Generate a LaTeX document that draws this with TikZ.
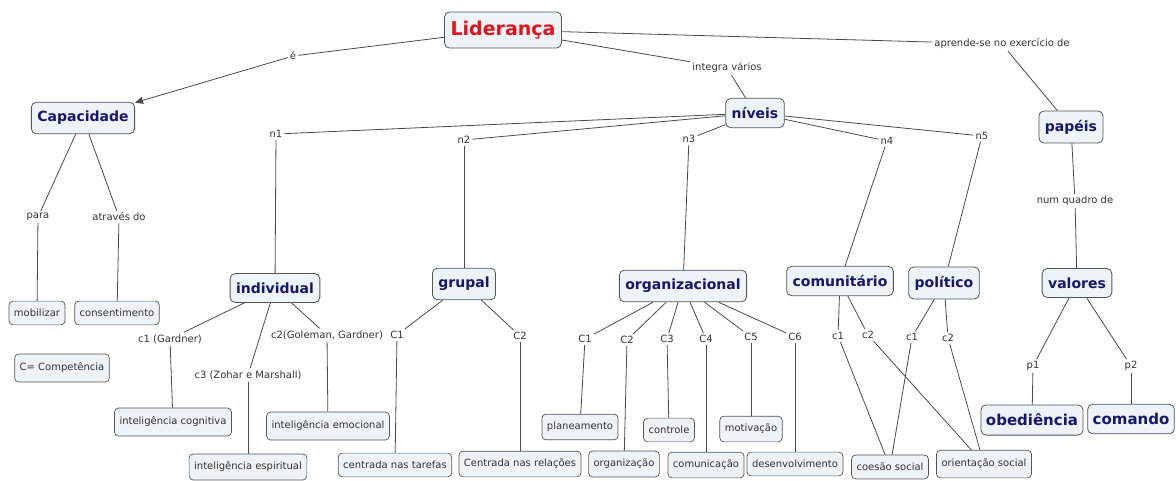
\documentclass[tikz,border=0pt]{standalone}
\usepackage{fontspec}
\setmainfont{DejaVu Sans}
\usetikzlibrary{arrows.meta}
\definecolor{boxfill}{HTML}{EDF3F7}
\definecolor{boxline}{HTML}{555555}
\definecolor{navy}{HTML}{16166E}
\definecolor{lidred}{HTML}{E3121C}
\definecolor{linkc}{HTML}{4A4A4A}
\definecolor{txt}{HTML}{333333}
\tikzset{
  big/.style={draw=boxline, line width=0.8pt, fill=boxfill, rounded corners=5pt,
    font=\fontsize{14}{16}\selectfont\bfseries, text=navy, inner xsep=6pt, inner ysep=9pt},
  small/.style={draw=boxline, line width=0.7pt, fill=boxfill, rounded corners=4pt,
    font=\fontsize{10}{12}\selectfont, text=txt, inner xsep=5pt, inner ysep=8pt},
  lab/.style={font=\fontsize{10}{12}\selectfont, text=txt, inner sep=2pt},
  link/.style={draw=linkc, line width=0.8pt},
  tip/.style={-{Triangle[length=8pt,width=7pt]}}
}
\begin{document}
\begin{tikzpicture}[x=1pt,y=-1pt]
\useasboundingbox (0,0) rectangle (1176,480);
% main concepts
\node[big, font=\fontsize{19}{21}\selectfont\bfseries, text=lidred, inner ysep=9pt] (lid) at (503,30) {Liderança};
\node[big] (cap) at (83,118) {Capacidade};
\node[big] (niv) at (755,113) {níveis};
\node[big] (pap) at (1071,127) {papéis};
\node[big] (ind) at (275,288) {individual};
\node[big] (gru) at (464,284) {grupal};
\node[big] (org) at (683,286) {organizacional};
\node[big] (com) at (840,281) {comunitário};
\node[big] (pol) at (944,283) {político};
\node[big] (val) at (1077,283) {valores};
\node[big, font=\fontsize{15}{17}\selectfont\bfseries, inner xsep=5pt] (obe) at (1032,420) {obediência};
\node[big, font=\fontsize{15}{17}\selectfont\bfseries, inner xsep=5pt] (cmd) at (1131,419) {comando};
% small concepts
\node[small] (mob) at (37,313) {mobilizar};
\node[small] (con) at (117,313) {consentimento};
\node[small, inner ysep=9pt] (cpt) at (62,368) {C= Competência};
\node[small, inner ysep=9pt] (icog) at (173,422) {inteligência cognitiva};
\node[small] (iesp) at (248,467) {inteligência espiritual};
\node[small, inner ysep=9pt] (iemo) at (328,426) {inteligência emocional};
\node[small] (ctar) at (395,465) {centrada nas tarefas};
\node[small] (crel) at (520,464) {Centrada nas relações};
\node[small] (plan) at (580,427) {planeamento};
\node[small] (orgz) at (624,464) {organização};
\node[small] (ctrl) at (669,430) {controle};
\node[small] (comu) at (706,465) {comunicação};
\node[small] (motv) at (751,429) {motivação};
\node[small] (desv) at (795,464) {desenvolvimento};
\node[small] (coes) at (890,467) {coesão social};
\node[small, inner ysep=9pt] (orie) at (984,464) {orientação social};
% link labels
\node[lab] (le) at (293,56) {é};
\node[lab] (lint) at (727,68) {integra vários};
\node[lab] (lapr) at (1002,44) {aprende-se no exercício de};
\node[lab] (n1) at (276,134) {n1};
\node[lab] (n2) at (464,140) {n2};
\node[lab] (n3) at (689,139) {n3};
\node[lab] (n4) at (887,141) {n4};
\node[lab] (n5) at (982,136) {n5};
\node[lab] (lpara) at (38,217) {para};
\node[lab] (latr) at (119,217) {através do};
\node[lab] (lnum) at (1075,201) {num quadro de};
\node[lab] (lc1g) at (170,339) {c1 (Gardner)};
\node[lab] (lc3z) at (248,375) {c3 (Zohar e Marshall)};
\node[lab, inner xsep=1pt] (lc2g) at (327,335) {c2(Goleman, Gardner)};
\node[lab] (gC1) at (397,335) {C1};
\node[lab] (gC2) at (520,336) {C2};
\node[lab] (oC1) at (585,339) {C1};
\node[lab] (oC2) at (627,340) {C2};
\node[lab] (oC3) at (667,339) {C3};
\node[lab] (oC4) at (706,339) {C4};
\node[lab] (oC5) at (751,337) {C5};
\node[lab] (oC6) at (795,337) {C6};
\node[lab] (mc1) at (838,336) {c1};
\node[lab] (mc2) at (868,335) {c2};
\node[lab] (pc1) at (912,337) {c1};
\node[lab] (pc2) at (948,338) {c2};
\node[lab] (lp1) at (1033,366) {p1};
\node[lab] (lp2) at (1131,366) {p2};
% connectors
\draw[link] (lid) -- (le);
\draw[link, tip] (le) -- (cap);
\draw[link] (lid) -- (lint);
\draw[link] (lint) -- (niv);
\draw[link] (lid) -- (lapr);
\draw[link] (lapr) -- (pap);
\foreach \n/\t in {n1/ind, n2/gru, n3/org, n4/com, n5/pol}{
  \draw[link] (niv) -- (\n);
  \draw[link] (\n) -- (\t);
}
\draw[link] (cap) -- (lpara); \draw[link] (lpara) -- (mob);
\draw[link] (cap) -- (latr); \draw[link] (latr) -- (con);
\draw[link] (pap) -- (lnum); \draw[link] (lnum) -- (val);
\draw[link] (val) -- (lp1); \draw[link] (lp1) -- (obe);
\draw[link] (val) -- (lp2); \draw[link] (lp2) -- (cmd);
\draw[link] (ind) -- (lc1g); \draw[link] (lc1g) -- (icog);
\draw[link] (ind) -- (lc3z); \draw[link] (lc3z) -- (iesp);
\draw[link] (ind) -- (lc2g); \draw[link] (lc2g) -- (iemo);
\draw[link] (gru) -- (gC1); \draw[link] (gC1) -- (ctar);
\draw[link] (gru) -- (gC2); \draw[link] (gC2) -- (crel);
\foreach \c/\t in {oC1/plan, oC2/orgz, oC3/ctrl, oC4/comu, oC5/motv, oC6/desv}{
  \draw[link] (org) -- (\c);
  \draw[link] (\c) -- (\t);
}
\draw[link] (com) -- (mc1); \draw[link] (mc1) -- (coes);
\draw[link] (com) -- (mc2); \draw[link] (mc2) -- (orie);
\draw[link] (pol) -- (pc1); \draw[link] (pc1) -- (coes);
\draw[link] (pol) -- (pc2); \draw[link] (pc2) -- (orie);
\end{tikzpicture}
\end{document}
